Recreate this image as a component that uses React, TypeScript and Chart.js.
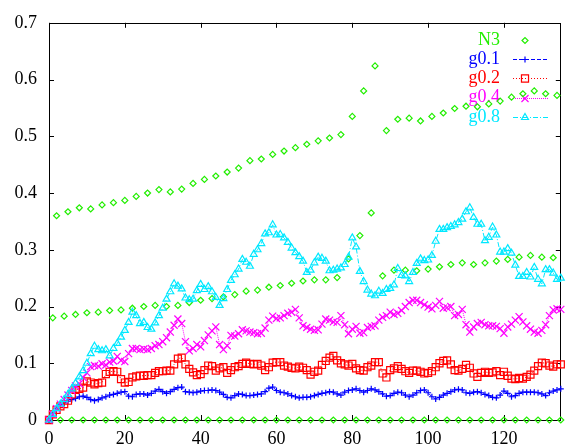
import React, { useEffect, useRef } from "react";
import { Chart, registerables } from "chart.js";
Chart.register(...registerables);

const FONT = "'Liberation Serif', 'DejaVu Serif', serif";

const xTicks = [0, 20, 40, 60, 80, 100, 120];
const yTicks = [0, 0.1, 0.2, 0.3, 0.4, 0.5, 0.6, 0.7];
const yTickLabels = ["0", "0.1", "0.2", "0.3", "0.4", "0.5", "0.6", "0.7"];
const xMax = 135;
const yMax = 0.7;

const seriesNames = ["N3", "g0.1", "g0.2", "g0.4", "g0.8"];

// N3: three interleaved branches (x = 3i, 3i+1, 3i+2)
const n3Zero = [
  0, 0, 0, 0, 0, 0, 0, 0, 0, 0, 0, 0, 0, 0, 0, 0, 0, 0, 0, 0, 0, 0, 0,
  0, 0, 0, 0, 0, 0, 0, 0, 0, 0, 0, 0, 0, 0, 0, 0, 0, 0, 0, 0, 0, 0, 0,
];
const n3Middle = [
  0.180, 0.183, 0.186, 0.189, 0.190, 0.193, 0.194, 0.197, 0.200, 0.202,
  0.200, 0.202, 0.207, 0.211, 0.214, 0.217, 0.221, 0.227, 0.229, 0.234,
  0.237, 0.241, 0.245, 0.247, 0.247, 0.251, 0.284, 0.325, 0.365, 0.254,
  0.264, 0.264, 0.263, 0.266, 0.270, 0.274, 0.277, 0.274, 0.277, 0.280,
  0.283, 0.287, 0.290, 0.287, 0.286,
];
const n3Upper = [
  0.360, 0.367, 0.374, 0.372, 0.379, 0.383, 0.387, 0.394, 0.400, 0.406,
  0.402, 0.407, 0.417, 0.424, 0.430, 0.437, 0.444, 0.457, 0.460, 0.468,
  0.474, 0.480, 0.486, 0.492, 0.497, 0.503, 0.535, 0.580, 0.624, 0.510,
  0.530, 0.532, 0.527, 0.535, 0.541, 0.549, 0.553, 0.552, 0.557, 0.562,
  0.569, 0.575, 0.580, 0.575, 0.572,
];

const g01 = [
  0, 0.012, 0.020, 0.027, 0.030, 0.033, 0.036, 0.038, 0.041, 0.042,
  0.040, 0.036, 0.034, 0.036, 0.039, 0.041, 0.044, 0.045, 0.047, 0.049,
  0.050, 0.042, 0.041, 0.045, 0.046, 0.046, 0.044, 0.047, 0.051, 0.054,
  0.050, 0.047, 0.050, 0.054, 0.057, 0.058, 0.050, 0.049, 0.048, 0.049,
  0.051, 0.052, 0.052, 0.053, 0.052, 0.049, 0.045, 0.040, 0.039, 0.043,
  0.046, 0.045, 0.043, 0.043, 0.044, 0.045, 0.046, 0.050, 0.056, 0.058,
  0.052, 0.049, 0.048, 0.046, 0.043, 0.041, 0.039, 0.040, 0.040, 0.041,
  0.043, 0.045, 0.047, 0.048, 0.050, 0.049, 0.046, 0.044, 0.049, 0.052,
  0.053, 0.055, 0.052, 0.049, 0.052, 0.055, 0.053, 0.050, 0.046, 0.042,
  0.043, 0.047, 0.049, 0.048, 0.044, 0.041, 0.044, 0.048, 0.052, 0.053,
  0.048, 0.041, 0.037, 0.040, 0.044, 0.047, 0.050, 0.053, 0.054, 0.053,
  0.048, 0.047, 0.049, 0.050, 0.048, 0.045, 0.043, 0.040, 0.039, 0.044,
  0.051, 0.047, 0.041, 0.043, 0.047, 0.049, 0.049, 0.049, 0.049, 0.048,
  0.046, 0.043, 0.048, 0.051, 0.053, 0.055,
];
const g02 = [
  0, 0.010, 0.018, 0.024, 0.028, 0.034, 0.045, 0.053, 0.055, 0.057,
  0.068, 0.066, 0.063, 0.065, 0.066, 0.081, 0.085, 0.086, 0.085, 0.072,
  0.066, 0.067, 0.075, 0.077, 0.078, 0.078, 0.079, 0.079, 0.083, 0.086,
  0.086, 0.087, 0.087, 0.098, 0.108, 0.110, 0.098, 0.090, 0.084, 0.079,
  0.081, 0.088, 0.096, 0.095, 0.087, 0.091, 0.093, 0.083, 0.088, 0.093,
  0.095, 0.099, 0.101, 0.099, 0.098, 0.099, 0.096, 0.088, 0.093, 0.101,
  0.102, 0.102, 0.096, 0.094, 0.092, 0.091, 0.094, 0.092, 0.088, 0.080,
  0.085, 0.087, 0.097, 0.104, 0.110, 0.113, 0.105, 0.100, 0.098, 0.096,
  0.099, 0.091, 0.088, 0.087, 0.093, 0.096, 0.102, 0.102, 0.082, 0.075,
  0.088, 0.091, 0.095, 0.090, 0.086, 0.083, 0.087, 0.087, 0.085, 0.082,
  0.083, 0.086, 0.093, 0.100, 0.104, 0.105, 0.098, 0.088, 0.087, 0.090,
  0.097, 0.092, 0.082, 0.076, 0.083, 0.085, 0.083, 0.084, 0.086, 0.079,
  0.085, 0.078, 0.073, 0.072, 0.074, 0.073, 0.076, 0.080, 0.087, 0.095,
  0.101, 0.100, 0.096, 0.094, 0.098, 0.098,
];
const g04 = [
  0, 0.010, 0.020, 0.028, 0.036, 0.044, 0.052, 0.060, 0.064, 0.075,
  0.083, 0.094, 0.096, 0.095, 0.099, 0.097, 0.102, 0.104, 0.112, 0.105,
  0.103, 0.117, 0.126, 0.126, 0.124, 0.125, 0.124, 0.126, 0.131, 0.133,
  0.138, 0.145, 0.155, 0.167, 0.178, 0.170, 0.138, 0.122, 0.126, 0.133,
  0.129, 0.140, 0.150, 0.157, 0.164, 0.133, 0.124, 0.131, 0.149, 0.148,
  0.152, 0.159, 0.157, 0.155, 0.154, 0.152, 0.153, 0.162, 0.176, 0.183,
  0.179, 0.180, 0.184, 0.188, 0.190, 0.195, 0.180, 0.166, 0.163, 0.160,
  0.158, 0.159, 0.169, 0.178, 0.176, 0.173, 0.172, 0.184, 0.168, 0.152,
  0.160, 0.165, 0.153, 0.154, 0.163, 0.165, 0.166, 0.176, 0.181, 0.184,
  0.190, 0.186, 0.188, 0.193, 0.200, 0.207, 0.211, 0.211, 0.207, 0.203,
  0.199, 0.196, 0.202, 0.209, 0.197, 0.198, 0.200, 0.184, 0.186, 0.195,
  0.168, 0.155, 0.164, 0.170, 0.172, 0.168, 0.166, 0.166, 0.165, 0.161,
  0.153, 0.164, 0.169, 0.176, 0.182, 0.173, 0.166, 0.160, 0.155, 0.153,
  0.158, 0.168, 0.184, 0.194, 0.196, 0.195,
];
const g08 = [
  0, 0.010, 0.020, 0.028, 0.036, 0.045, 0.055, 0.065, 0.076, 0.087,
  0.100, 0.117, 0.130, 0.124, 0.122, 0.124, 0.113, 0.126, 0.135, 0.146,
  0.158, 0.172, 0.190, 0.184, 0.170, 0.172, 0.163, 0.160, 0.171, 0.184,
  0.197, 0.213, 0.226, 0.240, 0.236, 0.231, 0.215, 0.212, 0.213, 0.228,
  0.239, 0.230, 0.235, 0.226, 0.216, 0.202, 0.214, 0.230, 0.246, 0.256,
  0.266, 0.283, 0.278, 0.271, 0.292, 0.300, 0.311, 0.328, 0.330, 0.344,
  0.326, 0.327, 0.321, 0.313, 0.303, 0.295, 0.288, 0.280, 0.260, 0.264,
  0.277, 0.287, 0.285, 0.280, 0.263, 0.264, 0.266, 0.268, 0.274, 0.287,
  0.321, 0.305, 0.262, 0.244, 0.229, 0.222, 0.219, 0.227, 0.223, 0.230,
  0.232, 0.238, 0.267, 0.255, 0.254, 0.244, 0.260, 0.276, 0.284, 0.281,
  0.282, 0.290, 0.315, 0.336, 0.336, 0.339, 0.341, 0.344, 0.348, 0.354,
  0.367, 0.374, 0.357, 0.345, 0.345, 0.316, 0.322, 0.340, 0.326, 0.296,
  0.296, 0.302, 0.294, 0.273, 0.253, 0.253, 0.260, 0.252, 0.269, 0.248,
  0.240, 0.265, 0.265, 0.259, 0.248, 0.250,
];

const GREEN = "#22ee00";
const BLUE = "#0000ff";
const RED = "#ff0000";
const MAGENTA = "#ff00ff";
const CYAN = "#00e8ff";

type Style = {
  color: string;
  marker: string;
  radius: number;
  dash: number[] | null;
};
const styles: Style[] = [
  { color: GREEN, marker: "rectRot", radius: 3, dash: null },
  { color: BLUE, marker: "cross", radius: 3, dash: [4, 2] },
  { color: RED, marker: "rect", radius: 5, dash: [1, 2] },
  { color: MAGENTA, marker: "crossRot", radius: 5, dash: [1, 1] },
  { color: CYAN, marker: "triangle", radius: 4, dash: [5, 2, 1, 2] },
];

function drawMarker(ctx: CanvasRenderingContext2D, m: string, x: number, y: number, r: number) {
  ctx.beginPath();
  if (m === "rectRot") {
    ctx.moveTo(x - r, y); ctx.lineTo(x, y - r); ctx.lineTo(x + r, y); ctx.lineTo(x, y + r); ctx.closePath();
  } else if (m === "cross") {
    ctx.moveTo(x - r, y); ctx.lineTo(x + r, y); ctx.moveTo(x, y - r); ctx.lineTo(x, y + r);
  } else if (m === "rect") {
    const s = r * Math.SQRT1_2;
    ctx.rect(x - s, y - s, 2 * s, 2 * s);
  } else if (m === "crossRot") {
    const s = r * Math.SQRT1_2;
    ctx.moveTo(x - s, y - s); ctx.lineTo(x + s, y + s); ctx.moveTo(x + s, y - s); ctx.lineTo(x - s, y + s);
  } else if (m === "triangle") {
    const h = r * Math.sin(Math.PI / 3);
    ctx.moveTo(x, y - r); ctx.lineTo(x + h, y + r / 2); ctx.lineTo(x - h, y + r / 2); ctx.closePath();
  }
  ctx.stroke();
}

const framePlugin = {
  id: "gnuplotFrame",
  beforeDatasetsDraw(chart: any) {
    const { ctx, chartArea } = chart;
    const { left, right, top, bottom } = chartArea;
    const xs = chart.scales.x;
    const ys = chart.scales.y;
    ctx.save();
    ctx.strokeStyle = "#000";
    ctx.lineWidth = 1;
    ctx.setLineDash([]);
    ctx.beginPath();
    for (const v of xTicks) {
      const px = Math.round(xs.getPixelForValue(v)) + 0.5;
      ctx.moveTo(px, bottom); ctx.lineTo(px, bottom - 5);
      ctx.moveTo(px, top); ctx.lineTo(px, top + 5);
    }
    for (const v of yTicks) {
      const py = Math.round(ys.getPixelForValue(v)) + 0.5;
      ctx.moveTo(left, py); ctx.lineTo(left + 5, py);
      ctx.moveTo(right, py); ctx.lineTo(right - 5, py);
    }
    ctx.stroke();
    ctx.strokeRect(Math.round(left) + 0.5, Math.round(top) + 0.5, Math.round(right - left) - 1, Math.round(bottom - top));

    // key (top right, gnuplot style)
    ctx.font = `18px ${FONT}`;
    ctx.textAlign = "right";
    ctx.textBaseline = "middle";
    const textRight = 500;
    const lineL = 513;
    const lineR = 548;
    const markX = 525;
    seriesNames.forEach((name, i) => {
      const st = styles[i];
      const yy = 40 + i * 19.2;
      ctx.fillStyle = st.color;
      ctx.fillText(name, textRight, yy);
      ctx.strokeStyle = st.color;
      ctx.lineWidth = 1;
      if (st.dash) {
        ctx.setLineDash(st.dash);
        ctx.beginPath();
        ctx.moveTo(lineL, Math.round(yy) + 0.5);
        ctx.lineTo(lineR, Math.round(yy) + 0.5);
        ctx.stroke();
      }
      ctx.setLineDash([]);
      ctx.lineWidth = 1.2;
      drawMarker(ctx, st.marker, markX, Math.round(yy) + 0.5, st.radius);
    });
    ctx.restore();
  },
};

export default function App() {
  const ref = useRef<HTMLCanvasElement | null>(null);
  useEffect(() => {
    if (!ref.current) return;
    const n3Points = [
      ...n3Zero.map((y, i) => ({ x: 3 * i, y })),
      ...n3Middle.map((y, i) => ({ x: 3 * i + 1, y })),
      ...n3Upper.map((y, i) => ({ x: 3 * i + 2, y })),
    ];
    const gSeries = [g01, g02, g04, g08];
    const datasets: any[] = [
      {
        label: seriesNames[0],
        data: n3Points,
        showLine: false,
        borderColor: styles[0].color,
        backgroundColor: "transparent",
        pointStyle: styles[0].marker,
        pointRadius: styles[0].radius,
        pointBorderWidth: 1.2,
        pointBackgroundColor: "transparent",
        pointBorderColor: styles[0].color,
        clip: false,
        order: 4,
      },
      ...gSeries.map((arr, k) => {
        const st = styles[k + 1];
        return {
          label: seriesNames[k + 1],
          data: arr.map((y, i) => ({ x: i, y })),
          showLine: true,
          borderColor: st.color,
          borderWidth: 1,
          borderDash: st.dash,
          backgroundColor: "transparent",
          pointStyle: st.marker,
          pointRadius: st.radius,
          pointBorderWidth: 1.2,
          pointBackgroundColor: "transparent",
          pointBorderColor: st.color,
          tension: 0,
          clip: false,
          order: 3 - k,
        };
      }),
    ];
    const chart = new Chart(ref.current, {
      type: "scatter",
      data: { datasets },
      plugins: [framePlugin],
      options: {
        animation: false,
        responsive: false,
        devicePixelRatio: 1,
        layout: { padding: { top: 14, right: 1, left: 0, bottom: 0 } },
        plugins: { legend: { display: false }, tooltip: { enabled: false } },
        scales: {
          x: {
            type: "linear",
            min: 0,
            max: xMax,
            grid: { display: false, drawTicks: false },
            border: { display: false },
            afterBuildTicks: (s: any) => { s.ticks = xTicks.map((v) => ({ value: v })); },
            afterFit: (s: any) => { s.height = 25; },
            ticks: {
              color: "#000",
              padding: 8,
              maxRotation: 0,
              font: { family: FONT, size: 18 },
              callback: (v: any) => String(v),
            },
          },
          y: {
            type: "linear",
            min: 0,
            max: yMax,
            grid: { display: false, drawTicks: false },
            border: { display: false },
            afterBuildTicks: (s: any) => { s.ticks = yTicks.map((v) => ({ value: v })); },
            afterFit: (s: any) => { s.width = 49; },
            ticks: {
              color: "#000",
              padding: 12,
              font: { family: FONT, size: 18 },
              callback: (v: any) => {
                const idx = yTicks.findIndex((t) => Math.abs(t - v) < 1e-9);
                return idx >= 0 ? yTickLabels[idx] : "";
              },
            },
          },
        },
      },
    });
    return () => chart.destroy();
  }, []);
  return (
    <div style={{ position: "absolute", left: 0, top: 0, width: 567, height: 445, background: "#fff" }}>
      <canvas ref={ref} width={567} height={445} style={{ display: "block", width: 567, height: 445 }} />
    </div>
  );
}
